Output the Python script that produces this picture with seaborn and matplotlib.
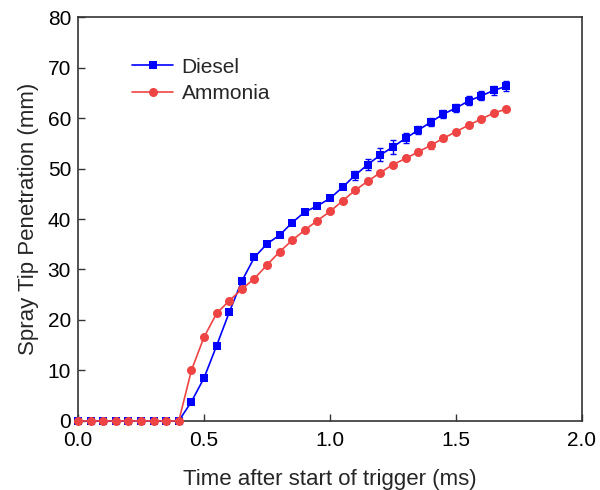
import numpy as np
import pandas as pd
import matplotlib
matplotlib.use("Agg")
import matplotlib.pyplot as plt
import seaborn as sns

time_ms = [0.0, 0.05, 0.1, 0.15, 0.2, 0.25, 0.3, 0.35, 0.4, 0.45, 0.5, 0.55, 0.6, 0.65,
           0.7, 0.75, 0.8, 0.85, 0.9, 0.95, 1.0, 1.05, 1.1, 1.15, 1.2, 1.25, 1.3, 1.35,
           1.4, 1.45, 1.5, 1.55, 1.6, 1.65, 1.7]
diesel = [0, 0, 0, 0, 0, 0, 0, 0, 0, 3.8, 8.5, 14.9, 21.5, 27.7, 32.4, 35.1, 36.8, 39.3,
          41.4, 42.6, 44.1, 46.3, 48.7, 50.8, 52.7, 54.3, 56.0, 57.6, 59.2, 60.8, 62.0,
          63.4, 64.4, 65.5, 66.3]
diesel_err = [0, 0, 0, 0, 0, 0, 0, 0, 0, 0.3, 0.3, 0.4, 0.4, 0.5, 0.4, 0.4, 0.3, 0.3,
              0.3, 0.3, 0.3, 0.4, 0.9, 1.0, 1.3, 1.4, 1.0, 0.8, 0.8, 0.8, 0.8,
              0.9, 0.9, 0.9, 1.0]
ammonia = [0, 0, 0, 0, 0, 0, 0, 0, 0, 10.0, 16.6, 21.3, 23.8, 26.1, 28.2, 30.9, 33.5, 35.8,
           37.8, 39.7, 41.5, 43.6, 45.7, 47.5, 49.2, 50.8, 52.0, 53.3, 54.6, 56.0, 57.3,
           58.6, 59.8, 61.0, 61.8]
ammonia_err = [0, 0, 0, 0, 0, 0, 0, 0, 0, 0.2, 0.2, 0.2, 0.2, 0.2, 0.2, 0.2, 0.2, 0.2,
               0.2, 0.2, 0.2, 0.2, 0.2, 0.2, 0.2, 0.2, 0.3, 0.5, 0.7, 0.5, 0.3,
               0.3, 0.2, 0.2, 0.2]

sns.set_theme(style="white")
plt.rcParams['font.family'] = ['Liberation Sans', 'DejaVu Sans']

df = pd.DataFrame({
    "time": time_ms * 2,
    "value": diesel + ammonia,
    "fuel": ["Diesel"] * len(time_ms) + ["Ammonia"] * len(time_ms),
})

blue = "#0000FF"
red = "#EE4444"

fig = plt.figure(figsize=(6, 4.9), dpi=100)
ax = fig.add_axes([0.13, 0.141, 0.84, 0.824])

sns.lineplot(data=df, x="time", y="value", hue="fuel", style="fuel",
             palette={"Diesel": blue, "Ammonia": red},
             markers={"Diesel": "s", "Ammonia": "o"}, dashes=False,
             markersize=5.5, markeredgewidth=0, linewidth=1.2, ax=ax)
for ln in ax.lines:
    ln.set_clip_on(False)
    if ln.get_marker() == "o":
        ln.set_markersize(6.5)
        ln.set_zorder(4)
    else:
        ln.set_markersize(5.2)
        ln.set_zorder(3)

for y, e, c, z in ((diesel, diesel_err, blue, 3), (ammonia, ammonia_err, red, 4)):
    eb = ax.errorbar(time_ms, y, yerr=e, fmt="none", ecolor=c,
                     elinewidth=1, capsize=2, capthick=1, zorder=z)
    for art in eb.get_children():
        art.set_clip_on(False)

ax.set_xlim(0, 2.0)
ax.set_ylim(0, 80)
ax.set_xticks([0.0, 0.5, 1.0, 1.5, 2.0])
ax.set_xticklabels(["0.0", "0.5", "1.0", "1.5", "2.0"])
ax.set_yticks(range(0, 81, 10))
ax.tick_params(direction="in", length=5, width=1, colors="#333333",
               labelcolor="black", labelsize=15, bottom=True, left=True,
               top=False, right=False)
ax.tick_params(axis="x", pad=7)
ax.tick_params(axis="y", pad=5)
for s in ax.spines.values():
    s.set_color("#333333")
    s.set_linewidth(1.2)

ax.set_xlabel("Time after start of trigger (ms)", fontsize=16, labelpad=14)
ax.set_ylabel("Spray Tip Penetration (mm)", fontsize=16, labelpad=6)

leg = ax.legend(loc="upper left", bbox_to_anchor=(0.09, 0.92), frameon=False,
                fontsize=15, handlelength=2.0, handletextpad=0.4,
                labelspacing=0.35, borderaxespad=0)

fig.savefig("out.png", dpi=100)
